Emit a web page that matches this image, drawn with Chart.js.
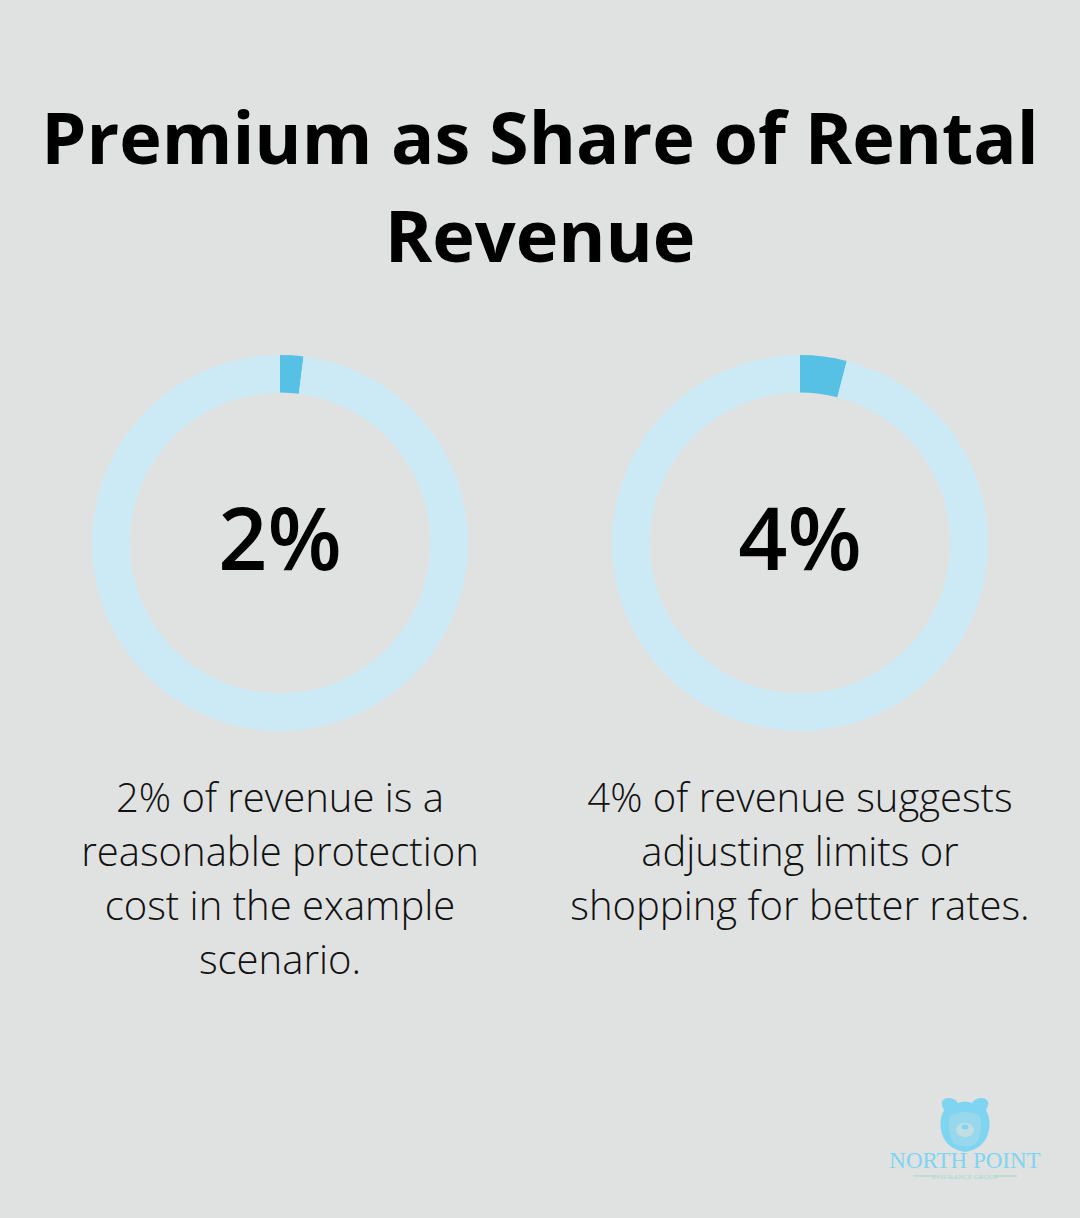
<!DOCTYPE html>
<html>
<head>
<meta charset="utf-8">
<script src="https://cdn.jsdelivr.net/npm/chart.js@4"></script>
<style>
  html, body { margin: 0; padding: 0; }
  body {
    width: 1080px; height: 1218px; background: #e0e2e1;
    font-family: "Open Sans", sans-serif; position: relative; overflow: hidden;
  }
  h1 {
    position: absolute; left: 0; top: 87px; width: 1080px; margin: 0;
    text-align: center; font-weight: 700; font-size: 72px; line-height: 98px; color: #000;
  }
  .ring { position: absolute; top: 355px; width: 376px; height: 376px; }
  .pct {
    position: absolute; top: 477px; width: 376px; text-align: center;
    font-size: 86px; font-weight: 600; line-height: 120px; color: #000;
  }
  .desc {
    position: absolute; top: 770px; width: 500px; text-align: center;
    font-size: 40px; font-weight: 300; line-height: 54px; color: #111;
  }
  .logo { position: absolute; left: 880px; top: 1096px; width: 170px; height: 90px; }
</style>
</head>
<body>
<h1>Premium as Share of Rental<br>Revenue</h1>

<canvas id="ring0" class="ring" style="left:92px"></canvas>
<canvas id="ring1" class="ring" style="left:612px"></canvas>
<div id="pct0" class="pct" style="left:92px"></div>
<div id="pct1" class="pct" style="left:612px"></div>
<div id="desc0" class="desc" style="left:30px"></div>
<div id="desc1" class="desc" style="left:550px"></div>

<svg class="logo" viewBox="0 0 170 90">
  <path d="M64 14 Q58 3 68 2 Q75 2 78 7 Q85 4 92 7 Q95 2 102 2 Q112 3 106 14 Q112 25 108 38 Q103 53 85 56 Q67 53 62 38 Q58 25 64 14 Z" fill="#7fd4f1"/>
  <path d="M70 20 Q85 12 100 20 Q104 34 96 48 Q85 53 74 48 Q66 34 70 20 Z" fill="#e0e2e1" opacity="0.25"/>
  <ellipse cx="85" cy="34" rx="9" ry="7" fill="#e0e2e1" opacity="0.6"/>
  <ellipse cx="85" cy="31" rx="3.5" ry="2.5" fill="#7fd4f1"/>
  <text x="85" y="72" text-anchor="middle" font-family="Liberation Serif, serif" font-size="23" fill="#7fd4f1">NORTH POINT</text>
  <line x1="33" y1="80" x2="55" y2="80" stroke="#9fd9cf" stroke-width="1"/>
  <line x1="115" y1="80" x2="137" y2="80" stroke="#9fd9cf" stroke-width="1"/>
  <text x="85" y="82.5" text-anchor="middle" font-family="Liberation Serif, serif" font-size="7" fill="#9fd9cf">INSURANCE GROUP</text>
</svg>

<script>
const shares = [2, 4];
const shareLabels = ["2%", "4%"];
const descriptions = [
  ["2% of revenue is a", "reasonable protection", "cost in the example", "scenario."],
  ["4% of revenue suggests", "adjusting limits or", "shopping for better rates."]
];
const filledColor = "#56c1e4";
const restColor = "#cbeaf5";

shares.forEach((value, i) => {
  document.getElementById("pct" + i).textContent = shareLabels[i];
  document.getElementById("desc" + i).innerHTML = descriptions[i].join("<br>");

  new Chart(document.getElementById("ring" + i), {
    type: "doughnut",
    data: {
      labels: ["Premium", "Other revenue"],
      datasets: [{
        data: [value, 100 - value],
        backgroundColor: [filledColor, restColor],
        borderWidth: 0,
        hoverOffset: 0
      }]
    },
    options: {
      responsive: false,
      animation: false,
      cutout: "80%",
      layout: { padding: 0 },
      plugins: { legend: { display: false }, tooltip: { enabled: false } },
      events: []
    }
  });
});
</script>
</body>
</html>
